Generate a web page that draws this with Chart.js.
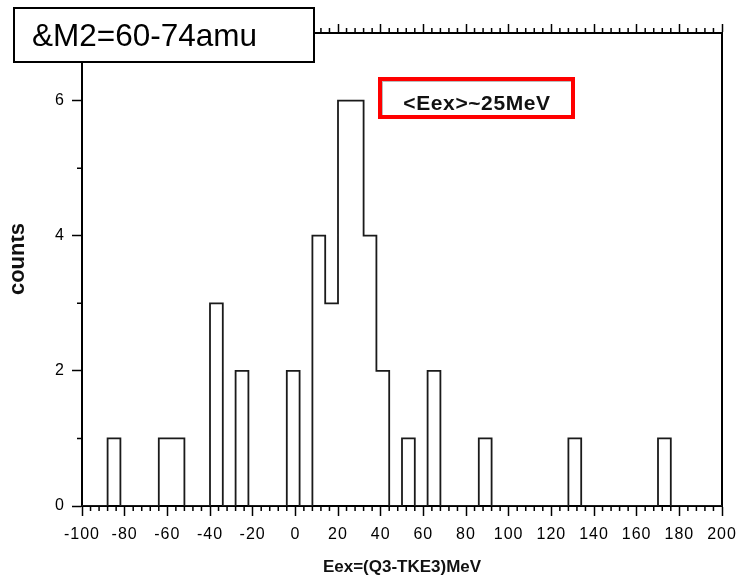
<!DOCTYPE html>
<html>
<head>
<meta charset="utf-8">
<script src="https://cdn.jsdelivr.net/npm/chart.js@4"></script>
<style>
  body { margin: 0; background: #fff; }
  canvas { display: block; }
</style>
</head>
<body>
<canvas id="chart" width="739" height="580"></canvas>
<script>
// histogram bins, 6 MeV wide
const binEdges = [
  -100, -94, -88, -82, -76, -70, -64, -58, -52, -46,
  -40, -34, -28, -22, -16, -10, -4, 2, 8, 14,
  20, 26, 32, 38, 44, 50, 56, 62, 68, 74,
  80, 86, 92, 98, 104, 110, 116, 122, 128, 134,
  140, 146, 152, 158, 164, 170, 176, 182, 188, 194, 200
];
const counts = [
  0, 0, 1, 0, 0, 0, 1, 1, 0, 0,
  3, 0, 2, 0, 0, 0, 2, 0, 4, 3,
  6, 6, 4, 2, 0, 1, 0, 2, 0, 0,
  0, 1, 0, 0, 0, 0, 0, 0, 1, 0,
  0, 0, 0, 0, 0, 1, 0, 0, 0, 0
];
const xTicks = [-100, -80, -60, -40, -20, 0, 20, 40, 60, 80, 100, 120, 140, 160, 180, 200];
const yTicks = [0, 2, 4, 6];
const yMinorTicks = [1, 3, 5];
const xMinorStep = 4;
const xTitle = "Eex=(Q3-TKE3)MeV";
const yTitle = "counts";
const massLabel = "&M2=60-74amu";
const meanLabel = "<Eex>~25MeV";

// point at each left edge, the last edge closes the outline at 0
const points = binEdges.map((edge, i) => ({
  x: edge,
  y: i < counts.length ? counts[i] : 0,
}));

const tickFont = { family: "'Liberation Sans', Arial, sans-serif", size: 16 };

const decorations = {
  id: "decorations",
  beforeDraw(chart) {
    chart.ctx.letterSpacing = "1px";
  },
  afterDraw(chart) {
    const ctx = chart.ctx;
    const xs = chart.scales.x;
    const ys = chart.scales.y;
    const area = chart.chartArea;
    ctx.save();
    ctx.letterSpacing = "0px";

    // minor ticks
    ctx.strokeStyle = "#000";
    ctx.lineWidth = 1.5;
    ctx.beginPath();
    for (let v = xs.min; v <= xs.max; v += xMinorStep) {
      if (xTicks.includes(v)) continue;
      const px = xs.getPixelForValue(v);
      ctx.moveTo(px, area.bottom);
      ctx.lineTo(px, area.bottom + 5);
      ctx.moveTo(px, area.top);
      ctx.lineTo(px, area.top - 5);
    }
    yMinorTicks.forEach((v) => {
      const py = ys.getPixelForValue(v);
      ctx.moveTo(area.left, py);
      ctx.lineTo(area.left - 5, py);
    });
    ctx.stroke();

    // x title
    ctx.fillStyle = "#111";
    ctx.font = "bold 17px 'Liberation Sans', Arial, sans-serif";
    ctx.textAlign = "center";
    ctx.textBaseline = "alphabetic";
    ctx.fillText(xTitle, (area.left + area.right) / 2, 571.5);

    // y title, cut at the left like in the original
    ctx.save();
    ctx.beginPath();
    ctx.rect(11.5, 0, chart.width, chart.height);
    ctx.clip();
    ctx.translate(23.5, 259);
    ctx.rotate(-Math.PI / 2);
    ctx.font = "bold 22px 'Liberation Sans', Arial, sans-serif";
    ctx.fillText(yTitle, 0, 0);
    ctx.restore();

    // mass label box
    ctx.fillStyle = "#fff";
    ctx.fillRect(13, 7, 302, 56);
    ctx.strokeStyle = "#000";
    ctx.lineWidth = 2;
    ctx.strokeRect(14, 8, 300, 54);
    ctx.fillStyle = "#000";
    ctx.font = "31.5px 'Liberation Sans', Arial, sans-serif";
    ctx.textAlign = "left";
    ctx.fillText(massLabel, 32, 46);

    // mean energy box
    ctx.strokeStyle = "#bbb";
    ctx.lineWidth = 1;
    ctx.strokeRect(382.5, 81.5, 189, 34);
    ctx.strokeStyle = "#f00";
    ctx.lineWidth = 4;
    ctx.strokeRect(380, 79, 193, 38);
    ctx.fillStyle = "#111";
    ctx.font = "bold 21px 'Liberation Sans', Arial, sans-serif";
    ctx.letterSpacing = "0.6px";
    ctx.textAlign = "center";
    ctx.fillText(meanLabel, 477, 109.5);
    ctx.restore();
  },
};

const ticksOnly = (list) => (scale) => {
  scale.ticks = list.map((v) => ({ value: v }));
};

const fixSize = (prop, size) => (scale) => {
  scale[prop] = size;
  scale.paddingLeft = 0;
  scale.paddingRight = 0;
  scale.paddingTop = 0;
  scale.paddingBottom = 0;
};

new Chart(document.getElementById("chart"), {
  type: "line",
  data: {
    datasets: [
      {
        data: points,
        stepped: "before",
        borderColor: "#1a1a1a",
        borderWidth: 1.8,
        pointRadius: 0,
        fill: false,
      },
    ],
  },
  options: {
    responsive: false,
    animation: false,
    layout: { padding: 0 },
    plugins: { legend: { display: false }, tooltip: { enabled: false } },
    scales: {
      x: {
        type: "linear",
        position: "bottom",
        min: -100,
        max: 200,
        afterBuildTicks: ticksOnly(xTicks),
        afterFit: fixSize("height", 74),
        ticks: { font: tickFont, color: "#000", padding: 9, maxRotation: 0, autoSkip: false },
        grid: { drawOnChartArea: false, tickLength: 10, tickWidth: 1.5, tickColor: "#000" },
        border: { color: "#000", width: 2 },
      },
      x2: {
        type: "linear",
        position: "top",
        min: -100,
        max: 200,
        afterBuildTicks: ticksOnly(xTicks),
        afterFit: fixSize("height", 33),
        ticks: { display: false },
        grid: { drawOnChartArea: false, tickLength: 9, tickWidth: 1.5, tickColor: "#000" },
        border: { color: "#000", width: 2 },
      },
      y: {
        min: 0,
        max: 7,
        afterBuildTicks: ticksOnly(yTicks),
        afterFit: fixSize("width", 82),
        ticks: { font: tickFont, color: "#000", padding: 7 },
        grid: { drawOnChartArea: false, tickLength: 10, tickWidth: 1.5, tickColor: "#000" },
        border: { color: "#000", width: 2 },
      },
      y2: {
        position: "right",
        min: 0,
        max: 7,
        afterFit: fixSize("width", 17),
        ticks: { display: false },
        grid: { display: false },
        border: { color: "#000", width: 2 },
      },
    },
  },
  plugins: [decorations],
});
</script>
</body>
</html>
